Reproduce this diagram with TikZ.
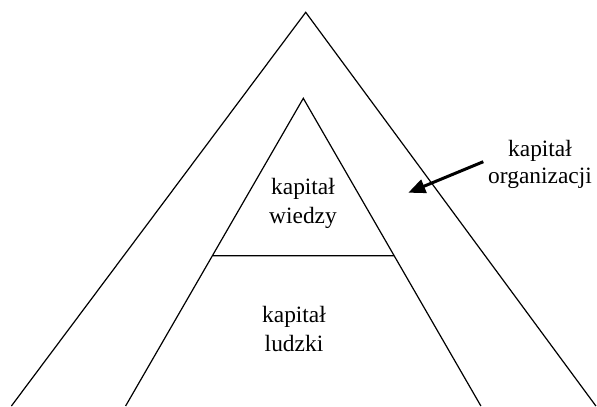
\documentclass[tikz,border=0pt]{standalone}
\usepackage{fontspec}
\setmainfont{Liberation Serif}
\usetikzlibrary{
    arrows.meta,
    calc
}

\begin{document}
\begin{tikzpicture}[x=1bp, y=-1bp, line width=1.2bp,
    textblock/.style={align=center, inner sep=0pt, font=\fontsize{23.5}{29}\selectfont}]
    \useasboundingbox (0,0) rectangle (597,406);
    % outer and inner triangle
    \coordinate (outerTop) at (305.7, 12.3);
    \coordinate (outerLeft) at (11.4, 406);
    \coordinate (outerRight) at (595.9, 406);
    \coordinate (innerTop) at (303.3, 98.3);
    \coordinate (innerLeft) at (125.6, 406);
    \coordinate (innerRight) at (480.9, 406);
    \coordinate (midLeft) at ($(innerTop)!0.5115!(innerLeft)$);
    \coordinate (midRight) at ($(innerTop)!0.5115!(innerRight)$);
    \draw
    (outerLeft) -- (outerTop) -- (outerRight)
    (innerLeft) -- (innerTop) -- (innerRight)
    (midLeft) -- (midRight);
    \node[textblock] (wiedza) at (303, 203) {kapitał\\wiedzy};
    \node[textblock] (ludzki) at (294, 329) {kapitał\\ludzki};
    \node[textblock, font=\fontsize{23.5}{27}\selectfont] (organizacja) at (540, 164) {kapitał\\organizacji};
    \coordinate (arrowStart) at (483.3, 161.7);
    \coordinate (arrowEnd) at (408.3, 192.7);
    \draw[line width=3bp, -{Triangle[length=17bp, width=14bp]}] (arrowStart) -- (arrowEnd);
\end{tikzpicture}
\end{document}
